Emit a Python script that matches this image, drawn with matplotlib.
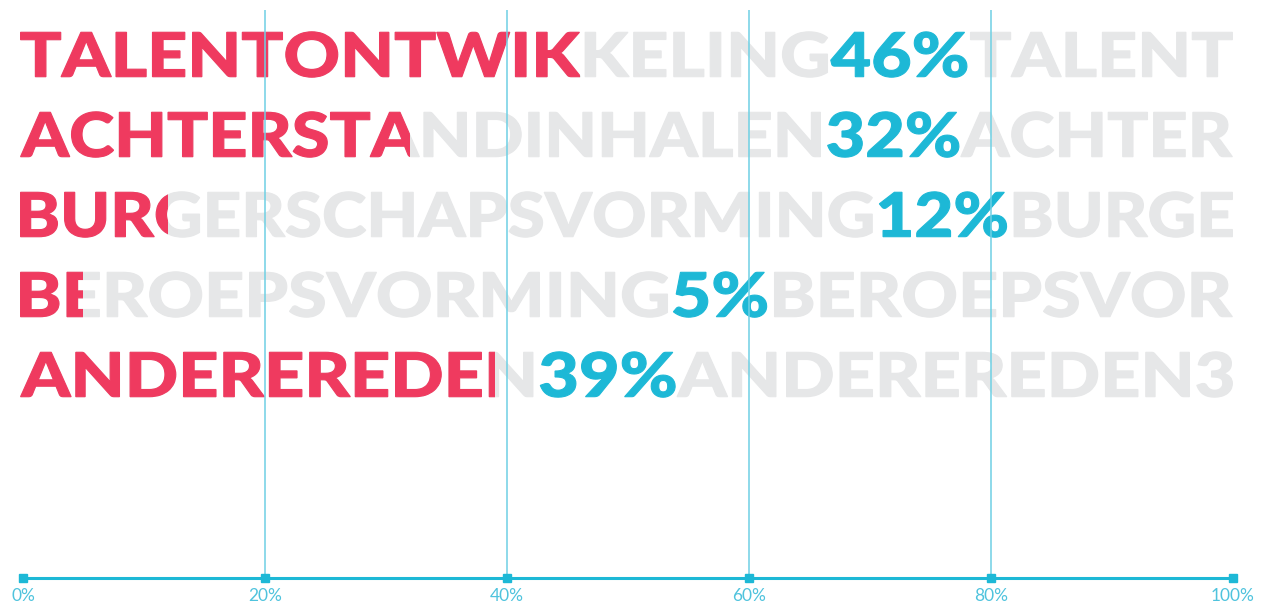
import numpy as np
import matplotlib
matplotlib.use('Agg')
import matplotlib.pyplot as plt
from matplotlib.font_manager import FontProperties, findfont, get_font
from matplotlib.textpath import TextPath
from matplotlib.path import Path
from matplotlib.patches import PathPatch, Rectangle
from matplotlib.transforms import Affine2D, ScaledTranslation

# data
categories = ['Talentontwikkeling', 'Achterstandinhalen', 'Burgerschapsvorming',
              'Beroepsvorming', 'Andere reden']
values = [46, 32, 12, 5, 39]
ticks = [0, 20, 40, 60, 80, 100]
tick_labels = ['0%', '20%', '40%', '60%', '80%', '100%']
# how many letters of the repeated word fit across each row
visible_chars = [27, 27, 27, 26, 26]

RED = '#ef3a5f'
GREY = '#e6e7e8'
CYAN = '#1db8d6'
GRID = '#6fd0e4'
TICK_TXT = '#4fc3dd'

W, H = 1266, 603
fig = plt.figure(figsize=(W / 100, H / 100), dpi=100)
axis_y_px = 577.7
top_px = 10
ax = fig.add_axes([23 / W, (H - axis_y_px) / H, 1210 / W, (axis_y_px - top_px) / H])
ax.set_xlim(0, 100)
row_gap = 80
first_base = 76.7
y_bottom = (axis_y_px - first_base) / row_gap
ax.set_ylim(y_bottom, (top_px - first_base) / row_gap)
ax.axis('off')

prop = FontProperties(family='Lato', weight='black', size=100)
ft = get_font(findfont(prop))
ft.set_size(100, 72)

cap_px = 44.4
h_ext = TextPath((0, 0), 'H', size=100, prop=prop).get_extents()
sy = cap_px / h_ext.height
x_lo = -0.2  # text starts a hair left of 0%


def char_paths(s):
    paths = []
    x = 0.0
    for ch in s:
        paths.append(TextPath((x, 0), ch, size=100, prop=prop))
        g = ft.load_char(ord(ch))
        x += g.linearHoriAdvance / 65536
    return paths


x0_disp = ax.transData.transform((x_lo, 0))[0]
x1_disp = ax.transData.transform((99.95, 0))[0]
span_px = x1_disp - x0_disp

for i, (cat, val, n) in enumerate(zip(categories, values, visible_chars)):
    label = cat.upper().replace(' ', '')
    pct = f'{val}%'
    unit = label + pct
    long = (unit * 4)[:n]
    # only the first value is highlighted, the repeats stay grey
    flags = ([False] * len(label) + [True] * len(pct) + [False] * n)[:n]
    use = char_paths(long)

    ext = Path.make_compound_path(*use).get_extents()
    sx = span_px / ext.width
    tr = (Affine2D().translate(-ext.x0, 0).scale(sx, sy)
          + ScaledTranslation(x_lo, i, ax.transData))

    grey_p = Path.make_compound_path(*[p for p, f in zip(use, flags) if not f])
    cyan_p = Path.make_compound_path(*[p for p, f in zip(use, flags) if f])
    all_p = Path.make_compound_path(*use)

    # a thin same-colour edge makes the strokes a touch heavier
    ax.add_patch(PathPatch(grey_p, transform=tr, fc=GREY, ec=GREY, lw=0.8,
                           clip_on=False, zorder=2))
    ax.add_patch(PathPatch(cyan_p, transform=tr, fc=CYAN, ec=CYAN, lw=0.8,
                           clip_on=False, zorder=2))
    red = ax.add_patch(PathPatch(all_p, transform=tr, fc=RED, ec=RED, lw=0.8, zorder=3))
    red.set_clip_path(Rectangle((-5, i - 1), val + 5, 1.6, transform=ax.transData))

# grid lines on top of the words
for t in ticks[1:-1]:
    ax.axvline(t, color=GRID, lw=1.1, zorder=5)

# axis line with square tick marks
ax.plot(ticks, [y_bottom] * len(ticks), color=CYAN, lw=2.2, marker='s', ms=6,
        clip_on=False, zorder=6)
for t, lbl in zip(ticks, tick_labels):
    ax.annotate(lbl, (t, y_bottom), xytext=(0, -17), textcoords='offset points',
                ha='center', va='baseline', fontsize=12.5, color=TICK_TXT,
                family='Lato', fontweight='normal', annotation_clip=False)

fig.savefig('out.png')
